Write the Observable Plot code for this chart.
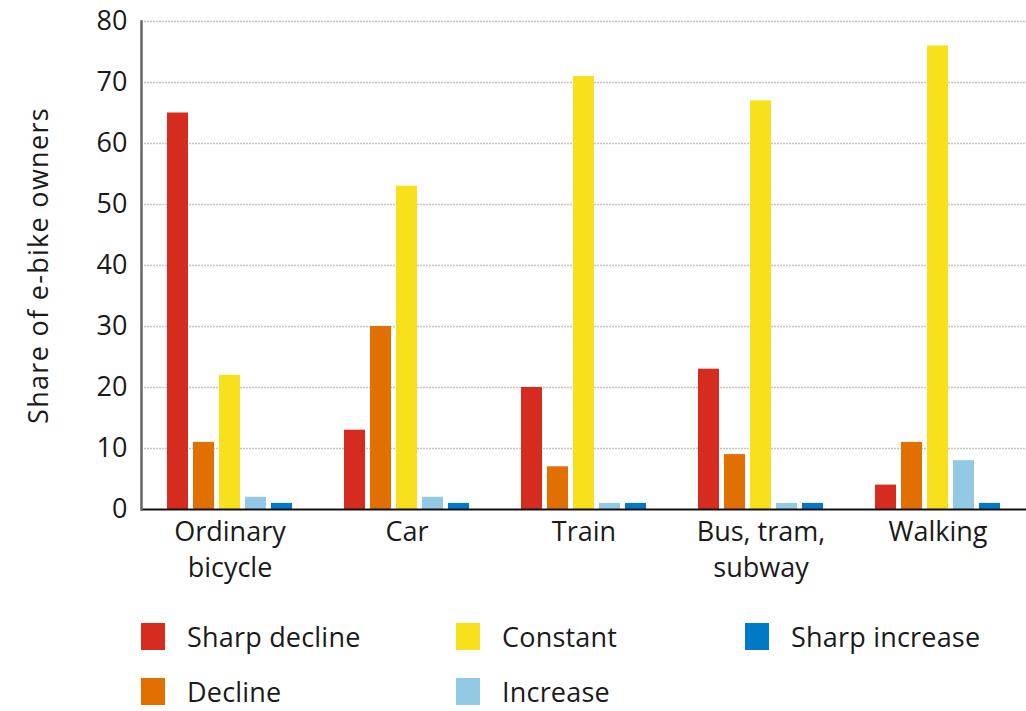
<!DOCTYPE html>
<html>
<head>
<meta charset="utf-8">
<script src="https://cdn.jsdelivr.net/npm/d3@7"></script>
<script src="https://cdn.jsdelivr.net/npm/@observablehq/plot@0.6"></script>
<style>
  body { margin: 0; background: #fff; font-family: "Open Sans", sans-serif; color: #1a1a1a; overflow: hidden; }
  #legend { display: grid; grid-template-columns: 315px 289px auto; row-gap: 25px; margin: 21px 0 0 141px; }
  .item { display: flex; align-items: center; height: 30px; font-size: 27px; letter-spacing: 0.2px; line-height: 1; }
  .sw { width: 24px; height: 27px; margin-right: 22px; flex: none; }
  g[aria-label="y-axis label"] text { font-size: 27px; letter-spacing: 1.3px; }
</style>
</head>
<body>
<div id="chart"></div>
<div id="legend"></div>
<script>
const groups = ["Ordinary bicycle", "Car", "Train", "Bus, tram, subway", "Walking"];
const groupLabels = ["Ordinary\nbicycle", "Car", "Train", "Bus, tram,\nsubway", "Walking"];
const series = ["Sharp decline", "Decline", "Constant", "Increase", "Sharp increase"];
const colors = ["#d62b1f", "#e27000", "#f8e11c", "#92cae6", "#0079c8"];
const sharpDecline = [65, 13, 20, 23, 4];
const decline = [11, 30, 7, 9, 11];
const constant = [22, 53, 71, 67, 76];
const increase = [2, 2, 1, 1, 8];
const sharpIncrease = [1, 1, 1, 1, 1];
const yTicks = [0, 10, 20, 30, 40, 50, 60, 70, 80];

const seriesValues = [sharpDecline, decline, constant, increase, sharpIncrease];
const data = [];
groups.forEach((g, gi) => series.forEach((s, si) => data.push({group: g, series: s, value: seriesValues[si][gi]})));

const chart = Plot.plot({
  width: 1026,
  height: 600,
  marginLeft: 141,
  marginRight: 0,
  marginTop: 21,
  marginBottom: 91,
  style: {fontFamily: "Open Sans, sans-serif", color: "#1a1a1a", background: "#fff"},
  fx: {domain: groups, padding: 0, label: null},
  x: {domain: series, paddingInner: 0.21, paddingOuter: 0.92, axis: null},
  y: {domain: [0, 80], label: null},
  color: {domain: series, range: colors},
  marks: [
    Plot.gridY({ticks: yTicks.filter(d => d > 0), stroke: "#c4c4c4", strokeOpacity: 1, strokeWidth: 1.3, strokeDasharray: "2,1"}),
    Plot.barY(data, {fx: "group", x: "series", y: "value", fill: "series"}),
    Plot.ruleY([0], {stroke: "#111", strokeWidth: 2.2}),
    Plot.frame({facet: "super", anchor: "left", stroke: "#666", strokeWidth: 2.5}),
    Plot.axisY({ticks: yTicks, tickSize: 0, tickPadding: 14, fontSize: 27,
      label: "Share of e-bike owners", labelArrow: "none", labelAnchor: "center", labelOffset: 113}),
    Plot.axisFx({anchor: "bottom", tickSize: 0, tickPadding: 7, fontSize: 27, lineHeight: 1.3, label: null,
      tickFormat: d => groupLabels[groups.indexOf(d)]})
  ]
});
document.getElementById("chart").appendChild(chart);

const legend = document.getElementById("legend");
const order = [0, 2, 4, 1, 3];
order.forEach(i => {
  const it = document.createElement("div");
  it.className = "item";
  it.innerHTML = `<span class="sw" style="background:${colors[i]}"></span><span>${series[i]}</span>`;
  legend.appendChild(it);
});
</script>
</body>
</html>
